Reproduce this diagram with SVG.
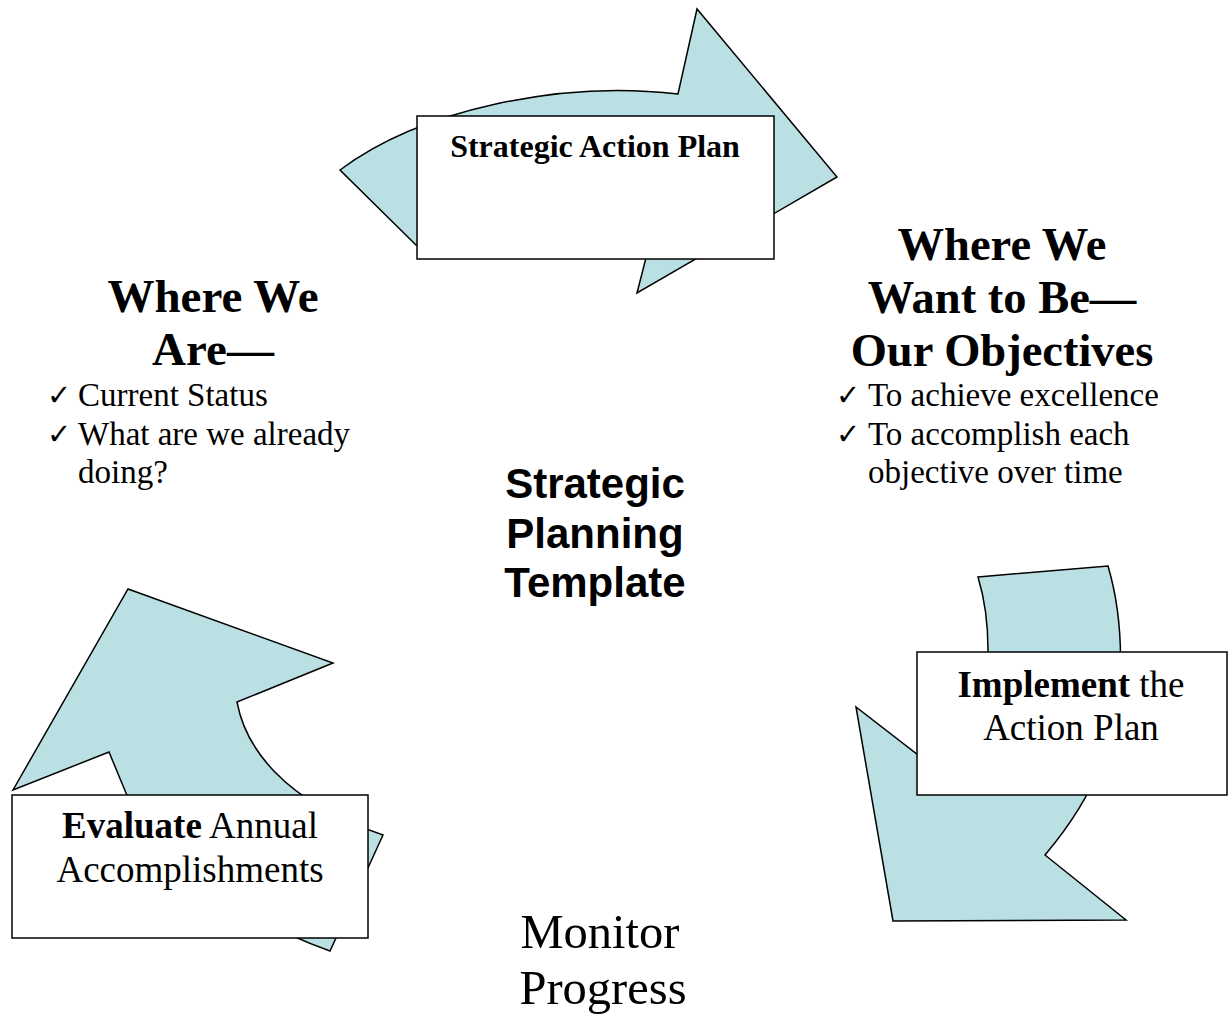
<svg xmlns="http://www.w3.org/2000/svg" width="1228" height="1020" viewBox="0 0 1228 1020">
<style>
.arrow{fill:#BBE0E3;stroke:#000;stroke-width:1.5;stroke-linejoin:miter}
.box{fill:#fff;stroke:#000;stroke-width:1.5}
.serif{font-family:"Liberation Serif","Times New Roman",serif;fill:#000}
.b{font-weight:bold}
.sans{font-family:"Liberation Sans",Arial,sans-serif;font-weight:bold;fill:#000}
.chk{font-family:"DejaVu Sans",sans-serif;font-size:29px}
</style>
<rect width="1228" height="1020" fill="#fff"/>
<g id="connectors">
<path class="arrow" d="M340,170 C420,110 560,80 678,94 L697,9 L837,177 L637,293 L648,250 C560,230 470,240 416,245 Z"/>
<path class="arrow" d="M978,577 L1108,566 C1118,600 1122,640 1120,680 C1118,730 1100,790 1045,855 L1126,920 L893,921 L856,707 L940,772 C975,740 990,700 988,650 C988,620 985,600 978,577 Z"/>
<path class="arrow" d="M13,790 L128,589 L333,663 L237,702 C245,745 280,800 383,835 L330,951 C230,915 150,850 126,793 L109,752 Z"/>
</g>
<g id="node-action-plan">
<rect class="box" x="417" y="116" width="357" height="143"/>
<text class="serif b" x="595" y="157" font-size="32" text-anchor="middle">Strategic Action Plan</text>
</g>
<g id="node-implement">
<rect class="box" x="917" y="652" width="310" height="143"/>
<text class="serif" font-size="37" text-anchor="middle"><tspan x="1071" y="697"><tspan class="b">Implement</tspan> the</tspan><tspan x="1071" y="740">Action Plan</tspan></text>
</g>
<g id="node-evaluate">
<rect class="box" x="12" y="795" width="356" height="143"/>
<text class="serif" font-size="37" text-anchor="middle"><tspan x="190" y="838"><tspan class="b">Evaluate</tspan> Annual</tspan><tspan x="190" y="882">Accomplishments</tspan></text>
</g>
<g id="node-where-we-are">
<text class="serif b" font-size="47" text-anchor="middle"><tspan x="213" y="312">Where We</tspan><tspan x="213" y="365">Are—</tspan></text>
<text class="chk" x="47" y="405">✓</text>
<text class="chk" x="47" y="444">✓</text>
<text class="serif" font-size="33"><tspan x="78" y="406">Current Status</tspan><tspan x="78" y="445">What are we already</tspan><tspan x="78" y="483">doing?</tspan></text>
</g>
<g id="node-where-we-want">
<text class="serif b" font-size="46.5" text-anchor="middle"><tspan x="1002" y="260">Where We</tspan><tspan x="1002" y="313">Want to Be—</tspan><tspan x="1002" y="366">Our Objectives</tspan></text>
<text class="chk" x="836" y="405">✓</text>
<text class="chk" x="836" y="444">✓</text>
<text class="serif" font-size="33"><tspan x="868" y="406">To achieve excellence</tspan><tspan x="868" y="445">To accomplish each</tspan><tspan x="868" y="483">objective over time</tspan></text>
</g>
<g id="node-title">
<text class="sans" font-size="42" text-anchor="middle"><tspan x="595" y="498">Strategic</tspan><tspan x="595" y="548">Planning</tspan><tspan x="595" y="597">Template</tspan></text>
</g>
<g id="node-monitor">
<text class="serif" font-size="48.5" text-anchor="middle"><tspan x="600" y="948">Monitor</tspan><tspan x="603" y="1004">Progress</tspan></text>
</g>
</svg>
